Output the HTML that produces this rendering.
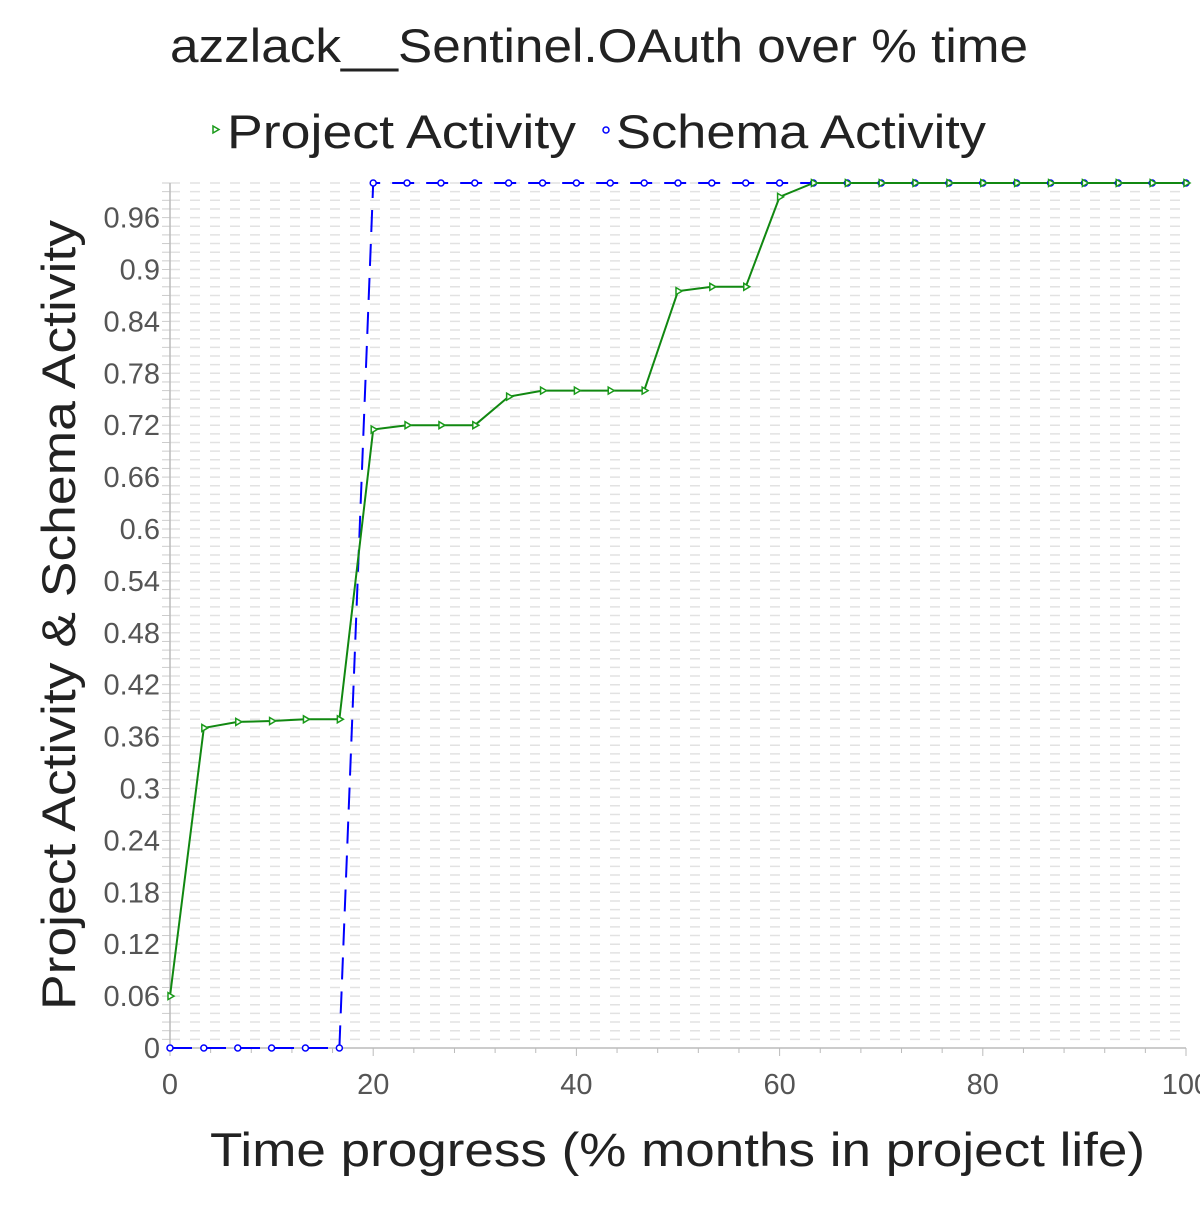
<!DOCTYPE html>
<html><head><meta charset="utf-8"><style>
body{margin:0;background:#fff;}
svg text{font-family:"Liberation Sans","DejaVu Sans",sans-serif;}
</style></head><body>
<svg id="chart" width="1200" height="1200" xmlns="http://www.w3.org/2000/svg">
<text x="170" y="62" textLength="858" lengthAdjust="spacingAndGlyphs" font-size="47" fill="#222">azzlack__Sentinel.OAuth over % time</text>
<g>
<g><path d="M213,126 L219,129.5 L213,133 Z" fill="#fff" stroke="#1a9a1a" stroke-width="1.5"/><text x="227" y="148" textLength="349" lengthAdjust="spacingAndGlyphs" font-size="47" fill="#222">Project Activity</text></g>
<g><circle cx="606" cy="130" r="3" fill="#fff" stroke="#00f" stroke-width="1.5"/><text x="616" y="148" textLength="370" lengthAdjust="spacingAndGlyphs" font-size="47" fill="#222">Schema Activity</text></g>
</g>
<g id="grid"></g>
<g id="axes"></g>
<g id="series"></g>
<text x="210" y="1166" textLength="935" lengthAdjust="spacingAndGlyphs" font-size="47" fill="#222">Time progress (% months in project life)</text>
<text transform="translate(75,1010) rotate(-90)" textLength="790" lengthAdjust="spacingAndGlyphs" font-size="47" fill="#222">Project Activity &amp; Schema Activity</text>
</svg>
<script>
const xValues=[0,3.33,6.67,10,13.33,16.67,20,23.33,26.67,30,33.33,36.67,40,43.33,46.67,50,53.33,56.67,60,63.33,66.67,70,73.33,76.67,80,83.33,86.67,90,93.33,96.67,100];
const projectActivity=[0.06,0.37,0.377,0.378,0.38,0.38,0.715,0.72,0.72,0.72,0.753,0.76,0.76,0.76,0.76,0.875,0.88,0.88,0.984,1,1,1,1,1,1,1,1,1,1,1,1];
const schemaActivity=[0,0,0,0,0,0,1,1,1,1,1,1,1,1,1,1,1,1,1,1,1,1,1,1,1,1,1,1,1,1,1];
const yTicks=[0,0.06,0.12,0.18,0.24,0.3,0.36,0.42,0.48,0.54,0.6,0.66,0.72,0.78,0.84,0.9,0.96];
const yTickLabels=["0","0.06","0.12","0.18","0.24","0.3","0.36","0.42","0.48","0.54","0.6","0.66","0.72","0.78","0.84","0.9","0.96"];
const xTicks=[0,20,40,60,80,100];
const xTickLabels=["0","20","40","60","80","100"];
const X0=170,X1=1186,Y0=1048,Y1=183;
const sx=v=>X0+(v/100)*(X1-X0);
const sy=v=>Y0-v*(Y0-Y1);
const NS="http://www.w3.org/2000/svg";
function mk(tag,attrs,parent){const e=document.createElementNS(NS,tag);for(const k in attrs)e.setAttribute(k,attrs[k]);parent.appendChild(e);return e;}
const grid=document.getElementById('grid'),axes=document.getElementById('axes'),series=document.getElementById('series');
for(let i=1;i<=100;i++){const y=sy(i/100);
 const l=mk('line',{x1:X0,x2:X1,y1:y,y2:y,stroke:'#e2e2e2','stroke-width':1.5,'stroke-dasharray':'10 10'},grid);
 
 
 mk('line',{x1:X0-8,x2:X0,y1:y,y2:y,stroke:'#ccc','stroke-width':1},axes);}
mk('line',{x1:X0,x2:X0,y1:Y1,y2:Y0,stroke:'#bbb','stroke-width':1.5},axes);
mk('line',{x1:X0,x2:X1,y1:Y0,y2:Y0,stroke:'#bbb','stroke-width':1.5},axes);
yTicks.forEach((v,i)=>{const t=mk('text',{x:X0-10,y:sy(v)+10,'text-anchor':'end','font-size':29,fill:'#555'},axes);t.textContent=yTickLabels[i];
 
 });
for(let v=0;v<=100;v+=4){mk('line',{x1:sx(v),x2:sx(v),y1:Y0,y2:Y0+(v%20===0?8:5),stroke:'#bbb','stroke-width':1},axes);}
xTicks.forEach((v,i)=>{const t=mk('text',{x:sx(v),y:Y0+46,'text-anchor':'middle','font-size':29,fill:'#555'},axes);t.textContent=xTickLabels[i];
 
 });
const sp=mk('polyline',{points:xValues.map((x,i)=>sx(x)+','+sy(schemaActivity[i])).join(' '),fill:'none',stroke:'#00f','stroke-width':2,'stroke-dasharray':'22 12'},series);


const pp=mk('polyline',{points:xValues.map((x,i)=>sx(x)+','+sy(projectActivity[i])).join(' '),fill:'none',stroke:'#118811','stroke-width':2},series);


xValues.forEach((x,i)=>{const c=mk('circle',{cx:sx(x),cy:sy(schemaActivity[i]),r:3,fill:'#fff',stroke:'#00f','stroke-width':1.5},series);
 
 
 const px=sx(x),py=sy(projectActivity[i]);
 const p=mk('path',{d:`M${px-2},${py-3.5} L${px+4},${py} L${px-2},${py+3.5} Z`,fill:'#fff',stroke:'#1a9a1a','stroke-width':1.5},series);
 
 });
</script>
</body></html>
